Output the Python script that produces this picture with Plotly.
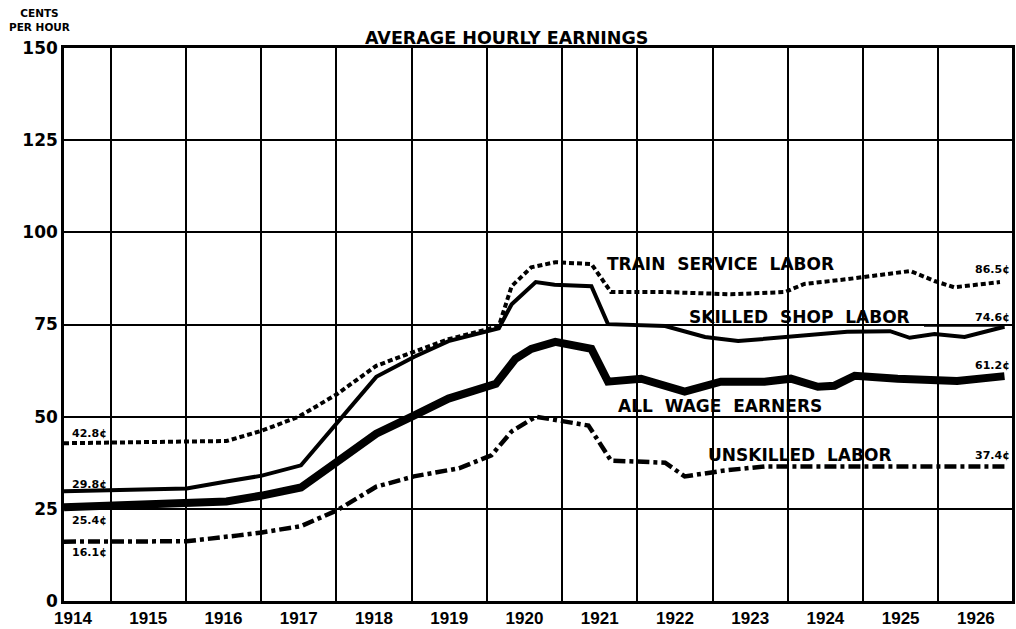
import plotly.graph_objects as go

# ---- data (decimal years, cents per hour) ----
train_years = [1914.38, 1915.0, 1915.5, 1916.01, 1916.54, 1917.01, 1917.5, 1918.0, 1918.53,
               1919.03, 1919.49, 1920.02, 1920.16, 1920.33, 1920.59, 1920.91, 1921.39, 1921.65,
               1922.37, 1923.24, 1923.96, 1924.22, 1924.79, 1925.63, 1925.95, 1926.21, 1926.82]
train_cents = [42.8, 42.9, 43.1, 43.2, 43.4, 46.2, 50.0, 56.0, 63.8,
               67.6, 71.0, 73.8, 74.6, 85.4, 90.5, 91.9, 91.4, 83.8,
               83.8, 83.2, 83.8, 86.0, 87.3, 89.5, 86.8, 85.1, 86.5]

skilled_years = [1914.38, 1916.01, 1916.54, 1917.01, 1917.53, 1918.53, 1919.03, 1919.49,
                 1920.16, 1920.33, 1920.65, 1920.9, 1921.39, 1921.61, 1922.37, 1922.63,
                 1922.90, 1923.34, 1924.13, 1924.79, 1925.36, 1925.62, 1925.95, 1926.35, 1926.88]
skilled_cents = [29.8, 30.5, 32.4, 34.0, 36.8, 60.8, 66.2, 70.5,
                 74.0, 80.5, 86.5, 85.8, 85.4, 75.1, 74.6, 73.2,
                 71.6, 70.5, 71.9, 73.0, 73.2, 71.4, 72.4, 71.6, 74.4]

all_years = [1914.38, 1916.01, 1916.54, 1917.01, 1917.53, 1918.01, 1918.53, 1919.03, 1919.49,
             1920.12, 1920.38, 1920.59, 1920.91, 1921.39, 1921.61, 1922.05, 1922.63, 1923.11,
             1923.69, 1924.04, 1924.40, 1924.62, 1924.89, 1925.46, 1926.25, 1926.88]
all_cents = [25.4, 26.5, 27.0, 28.6, 30.8, 37.8, 45.4, 50.3, 54.9,
             58.9, 65.7, 68.4, 70.3, 68.4, 59.5, 60.3, 56.8, 59.5,
             59.5, 60.3, 58.1, 58.4, 61.1, 60.3, 59.7, 61.0]

unskilled_years = [1914.38, 1916.01, 1916.7, 1917.01, 1917.53, 1918.01, 1918.53, 1919.03,
                   1919.63, 1920.06, 1920.33, 1920.65, 1921.35, 1921.65, 1922.37, 1922.63,
                   1923.16, 1923.69, 1924.04, 1925.36, 1926.88]
unskilled_cents = [16.1, 16.2, 17.8, 18.6, 20.3, 24.6, 31.0, 33.8,
                   36.0, 39.5, 46.0, 50.0, 47.6, 38.1, 37.5, 33.8,
                   35.4, 36.5, 36.5, 36.5, 36.5]

year_labels = [str(y) for y in range(1914, 1927)]
y_ticks = [0, 25, 50, 75, 100, 125, 150]
start_labels = ["42.8¢", "29.8¢", "25.4¢", "16.1¢"]
end_labels = ["86.5¢", "74.6¢", "61.2¢", "37.4¢"]
series_names = ["TRAIN  SERVICE  LABOR", "SKILLED  SHOP  LABOR", "ALL  WAGE  EARNERS", "UNSKILLED  LABOR"]

X0, X1 = 1914.38, 1926.98

fig = go.Figure()
fig.add_trace(go.Scatter(x=train_years, y=train_cents, mode="lines",
                         line=dict(color="black", width=4, dash="5px,3px")))
fig.add_trace(go.Scatter(x=skilled_years, y=skilled_cents, mode="lines",
                         line=dict(color="black", width=4)))
fig.add_trace(go.Scatter(x=all_years, y=all_cents, mode="lines",
                         line=dict(color="black", width=8)))
fig.add_trace(go.Scatter(x=unskilled_years, y=unskilled_cents, mode="lines",
                         line=dict(color="black", width=4.5, dash="12px,4px,4px,4px")))

small = dict(family="DejaVu Sans", size=11, color="black", weight="bold")
big = dict(family="DejaVu Sans", size=17, color="black", weight="bold")

ann = []
# start-value labels
start_pos = [45.4, 31.6, 21.9, 13.2]
for t, yv in zip(start_labels, start_pos):
    ann.append(dict(x=1914.46, y=yv, text=t, showarrow=False, xanchor="left",
                    yanchor="middle", font=small))
# end-value labels
end_pos = [90.0, 76.8, 63.8, 39.5]
for t, yv in zip(end_labels, end_pos):
    ann.append(dict(x=X1, y=yv, text=t, showarrow=False, xanchor="right",
                    yanchor="middle", font=small))
# series names
name_pos = [(1923.10, 91.4), (1924.16, 77.0), (1923.10, 53.0), (1924.16, 39.5)]
for t, (xv, yv) in zip(series_names, name_pos):
    ann.append(dict(x=xv, y=yv, text=t, showarrow=False, xanchor="center",
                    yanchor="middle", font=big))
# title and axis title
ann.append(dict(x=0.467, y=1.018, xref="paper", yref="paper", text="AVERAGE HOURLY EARNINGS",
                showarrow=False, xanchor="center", yanchor="middle",
                font=dict(family="DejaVu Sans", size=17.5, color="black", weight="bold")))
ann.append(dict(x=-0.026, y=1.05, xref="paper", yref="paper", text="CENTS<br>PER HOUR",
                showarrow=False, xanchor="center", yanchor="middle", align="center",
                font=dict(family="DejaVu Sans", size=10.5, color="black", weight="bold")))

fig.update_layout(
    width=1016, height=629,
    margin=dict(l=64, r=1, t=48, b=26),
    paper_bgcolor="white", plot_bgcolor="white",
    showlegend=False,
    annotations=ann,
    shapes=[dict(type="line", x0=1925.81, x1=1926.88, y0=74.6, y1=74.6,
                 xref="x", yref="y", line=dict(color="black", width=1.5))],
)
fig.update_xaxes(
    range=[X0, X1],
    tickmode="array",
    tickvals=[y + 0.5 for y in range(1914, 1927)],
    ticktext=year_labels,
    showgrid=False, ticks="", zeroline=False,
    showline=True, linecolor="black", linewidth=2.5, mirror=True,
    tickfont=dict(family="Liberation Sans", size=17, color="black", weight="bold"),
    minor=dict(tickmode="array", tickvals=list(range(1915, 1927)), showgrid=True,
               gridcolor="black", gridwidth=2, ticks=""),
)
fig.update_yaxes(
    range=[0, 150],
    tickmode="array", tickvals=y_ticks, ticktext=[str(v) for v in y_ticks],
    showgrid=True, gridcolor="black", gridwidth=2, zeroline=False,
    showline=True, linecolor="black", linewidth=2.5, mirror=True, ticks="",
    tickfont=dict(family="DejaVu Sans", size=17, color="black", weight="bold"),
)

fig.write_html("out.html",
               config={"displayModeBar": False},
               post_script="document.body.style.margin='0';document.body.style.overflow='hidden';")
